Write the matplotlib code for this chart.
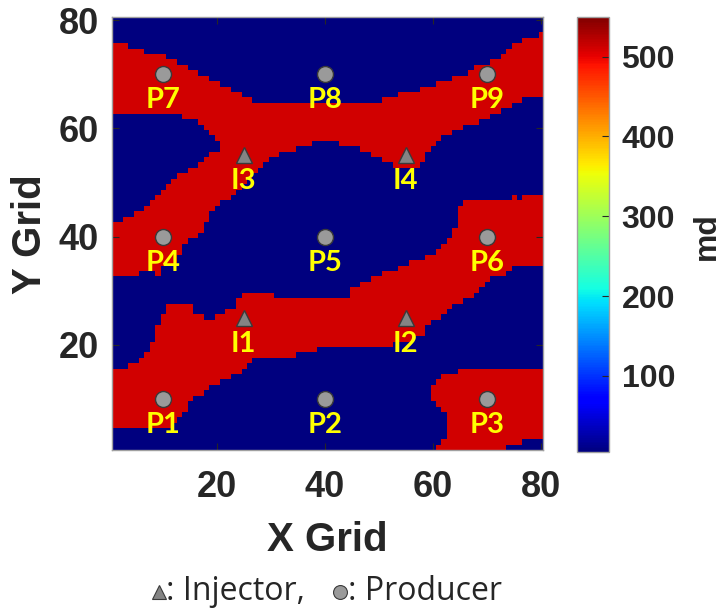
import numpy as np
import matplotlib
matplotlib.use("Agg")
import matplotlib.pyplot as plt
from matplotlib.lines import Line2D

# permeability values (md) and colour limits
k_low = 5
k_high = 510
c_min, c_max = 5, 550
nx, ny = 80, 80

# channel edges as (right x boundary of the run, y boundary level)
# upper channel: top edge from P7 over P8 to P9
top_upper = [(3.5, 75.5), (6.5, 74.5), (10.5, 73.5), (12.5, 72.5), (14.5, 71.5),
             (16.5, 70.5), (18.5, 69.5), (20.5, 68.5), (22.5, 67.5), (24.5, 66.5),
             (26.5, 65.5), (50.5, 64.5), (53.5, 65.5), (57.5, 66.5), (60.5, 67.5),
             (63.5, 68.5), (66.5, 69.5), (67.5, 70.5), (70.5, 71.5), (72.5, 72.5),
             (73.5, 73.5), (74.5, 74.5), (76.5, 75.5), (79.5, 76.5), (80.5, 77.5)]
# upper channel: bottom edge from P4 under I3 and I4 to the right side
top_lower = [(5.5, 32.5), (8.5, 33.5), (9.5, 32.5), (12.5, 34.5), (13.5, 36.5),
             (14.5, 38.5), (16.5, 39.5), (17.5, 40.5), (18.5, 42.5), (19.5, 44.5),
             (20.5, 45.5), (22.5, 46.5), (23.5, 47.5), (24.5, 48.5), (25.5, 49.5),
             (26.5, 50.5), (27.5, 51.5), (28.5, 52.5), (29.5, 53.5), (31.5, 54.5),
             (34.5, 55.5), (37.5, 56.5), (42.5, 57.5), (46.5, 56.5), (48.5, 55.5),
             (50.5, 54.5), (52.5, 53.5), (57.5, 52.5), (58.5, 53.5), (59.5, 55.5),
             (60.5, 56.5), (61.5, 57.5), (63.5, 58.5), (65.5, 59.5), (68.5, 60.5),
             (70.5, 61.5), (72.5, 62.5), (74.5, 63.5), (76.5, 64.5), (80.5, 65.5)]
# blue wedge between the P4 branch and the P7 branch
wedge_lower = [(2.5, 42.5), (4.5, 43.5), (6.5, 44.5), (7.5, 45.5), (8.5, 46.5),
               (9.5, 47.5), (10.5, 48.5), (11.5, 49.5), (12.5, 50.5), (14.5, 51.5),
               (16.5, 52.5), (17.5, 53.5), (18.5, 54.5), (20.5, 55.5)]
wedge_upper = [(13.5, 62.5), (16.5, 61.5), (17.5, 60.5), (18.5, 59.5), (19.5, 58.5),
               (20.5, 57.5)]
# lower channel P1 -> I1 -> I2 -> P6
low_lower = [(11.5, 4.5), (12.5, 5.5), (13.5, 6.5), (14.5, 7.5), (15.5, 9.5),
             (17.5, 10.5), (18.5, 11.5), (20.5, 12.5), (22.5, 13.5), (24.5, 14.5),
             (25.5, 15.5), (26.5, 16.5), (34.5, 17.5), (38.5, 18.5), (52.5, 19.5),
             (56.5, 20.5), (58.5, 21.5), (59.5, 23.5), (61.5, 24.5), (62.5, 25.5),
             (63.5, 26.5), (65.5, 27.5), (67.5, 28.5), (68.5, 29.5), (69.5, 30.5),
             (70.5, 31.5), (73.5, 32.5), (74.5, 33.5), (80.5, 34.5)]
low_upper = [(3.5, 15.5), (5.5, 16.5), (6.5, 17.5), (7.5, 18.5), (8.5, 20.5),
             (9.5, 23.5), (10.5, 25.5), (15.5, 27.5), (17.5, 25.5), (19.5, 24.5),
             (21.5, 25.5), (23.5, 26.5), (24.5, 28.5), (30.5, 29.5), (44.5, 28.5),
             (46.5, 30.5), (48.5, 31.5), (50.5, 32.5), (53.5, 33.5), (55.5, 34.5),
             (58.5, 35.5), (60.5, 36.5), (61.5, 37.5), (62.5, 38.5), (63.5, 39.5),
             (64.5, 41.5), (65.5, 45.5), (74.5, 46.5), (75.5, 47.5), (76.5, 46.5),
             (80.5, 47.5)]
# P3 lobe: (row, left x boundary, right x boundary)
p3_rows = [(1, 60.5, 73.5), (2, 61.5, 76.5), (3, 62.5, 80.5), (4, 62.5, 80.5),
           (5, 62.5, 80.5), (6, 62.5, 80.5), (7, 62.5, 80.5), (8, 61.5, 80.5),
           (9, 60.5, 80.5), (10, 59.5, 80.5), (11, 59.5, 80.5), (12, 59.5, 80.5),
           (13, 60.5, 80.5), (14, 61.5, 80.5), (15, 64.5, 80.5)]

# wells
prod_names = ["P1", "P2", "P3", "P4", "P5", "P6", "P7", "P8", "P9"]
prod_x = [10, 40, 70, 10, 40, 70, 10, 40, 70]
prod_y = [10, 10, 10, 40, 40, 40, 70, 70, 70]
inj_names = ["I1", "I2", "I3", "I4"]
inj_x = [25, 55, 25, 55]
inj_y = [25, 25, 55, 55]

cb_ticks = [100, 200, 300, 400, 500]
ax_ticks = [20, 40, 60, 80]

cols = np.arange(1, nx + 1)
rows = np.arange(1, ny + 1)


def edge_cols(edge):
    xr = np.array([e[0] for e in edge])
    lv = np.array([e[1] for e in edge] + [np.nan])
    return lv[np.searchsorted(xr, cols)]


def band(lo, up):
    return (rows[:, None] > lo[None, :]) & (rows[:, None] < up[None, :])


perm = np.full((ny, nx), float(k_low))
perm[band(edge_cols(top_lower), edge_cols(top_upper))] = k_high
perm[band(edge_cols(wedge_lower), edge_cols(wedge_upper))] = k_low
perm[band(edge_cols(low_lower), edge_cols(low_upper))] = k_high
for r, xl, xr in p3_rows:
    perm[r - 1, (cols > xl) & (cols < xr)] = k_high

fig = plt.figure(figsize=(7.21, 6.14), dpi=100)
ax = fig.add_axes([0.1549, 0.2663, 0.5986, 0.7055])
im = ax.imshow(perm, origin="lower", cmap="jet", vmin=c_min, vmax=c_max,
               extent=(0.5, nx + 0.5, 0.5, ny + 0.5), aspect="auto",
               interpolation="nearest")

ax.plot(prod_x, prod_y, "o", ms=11.5, mfc="#9a9a9a", mec="#3a3a3a", mew=1.0, ls="none")
ax.plot(inj_x, inj_y, "^", ms=12, mfc="#848484", mec="#3a3a3a", mew=1.0, ls="none")
lab_font = dict(family=["Lato", "DejaVu Sans"], fontsize=21, fontweight="bold",
                color="#ffff00", ha="center", va="center")
for n, x, y in zip(prod_names + inj_names, prod_x + inj_x, prod_y + inj_y):
    ax.text(x, y - 4.8, n, **lab_font)

tick_font = ["Liberation Sans", "Arial", "DejaVu Sans"]
ax.set_xlim(0.5, nx + 0.5)
ax.set_ylim(0.5, ny + 0.5)
ax.set_xticks(ax_ticks)
ax.set_yticks(ax_ticks)
ax.tick_params(direction="in", length=5, width=0.8, color="#262626",
               top=True, right=True, labelsize=26, labelcolor="#262626")
ax.tick_params(axis="x", pad=14)
ax.tick_params(axis="y", pad=9)
for lab in ax.get_xticklabels() + ax.get_yticklabels():
    lab.set_family(tick_font)
    lab.set_fontweight("bold")
for s in ax.spines.values():
    s.set_color("#a0a0a0")
    s.set_linewidth(1.0)

fig.text(0.4542, 1 - 540 / 614, "X Grid", ha="center", va="center",
         family=tick_font, fontsize=29, fontweight="bold", color="#262626")
fig.text(30 / 721, 1 - 234 / 614, "Y Grid", ha="center", va="center", rotation=90,
         family=tick_font, fontsize=29, fontweight="bold", color="#262626")

cax = fig.add_axes([577.3 / 721, 1 - 451.7 / 614, 31.7 / 721, 435 / 614])
cb = fig.colorbar(im, cax=cax, ticks=cb_ticks)
cb.outline.set_edgecolor("#a0a0a0")
cb.outline.set_linewidth(1.0)
cax.tick_params(direction="in", length=5, width=0.8, color="#262626",
                labelsize=23, labelcolor="#262626", pad=9)
for lab in cax.get_yticklabels():
    lab.set_family(tick_font)
    lab.set_fontweight("bold")
fig.text(707 / 721, 1 - 236 / 614, "md", ha="center", va="center", rotation=90,
         family=tick_font, fontsize=23, fontweight="bold", color="#262626")

# caption with marker key
cap_y = 1 - 592 / 614
fig.add_artist(Line2D([159 / 721], [cap_y], transform=fig.transFigure, marker="^",
                      ms=10, mfc="#848484", mec="#3a3a3a", mew=0.8, ls="none"))
fig.add_artist(Line2D([340 / 721], [cap_y], transform=fig.transFigure, marker="o",
                      ms=10, mfc="#9a9a9a", mec="#3a3a3a", mew=0.8, ls="none"))
cap_font = dict(family=["Open Sans", "DejaVu Sans"], fontsize=23, color="#262626",
                ha="left", va="center")
fig.text(166 / 721, cap_y, ": Injector,", **cap_font)
fig.text(348 / 721, cap_y, ": Producer", **cap_font)

fig.savefig("out.png", dpi=100)
